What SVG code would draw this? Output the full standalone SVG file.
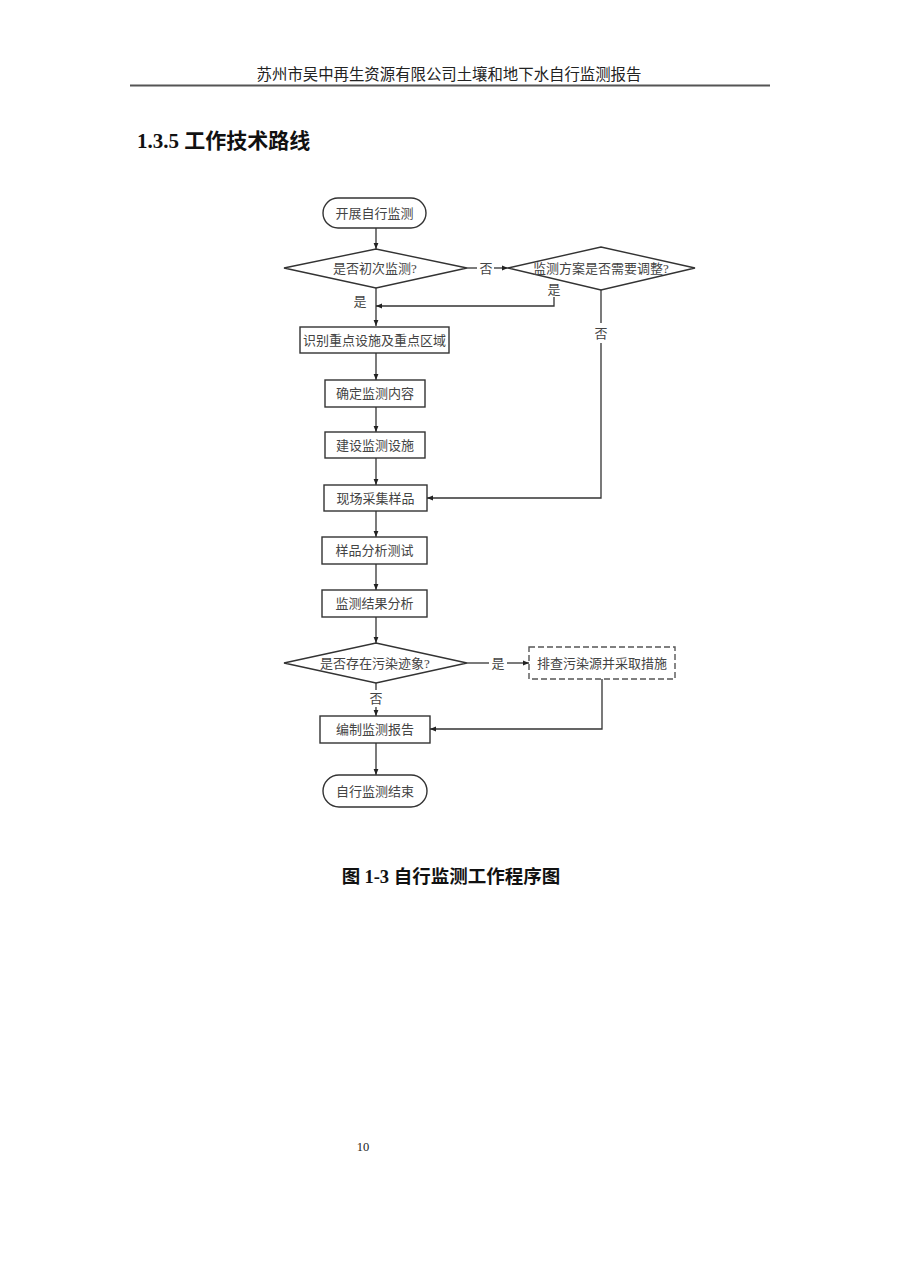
<svg xmlns="http://www.w3.org/2000/svg" width="900" height="1272" viewBox="0 0 900 1272">
<style>
.sh{fill:#fff;stroke:#333;stroke-width:1.4}
.dash{fill:#fff;stroke:#555;stroke-width:1.4;stroke-dasharray:6,3}
.t{font-family:"Liberation Serif","Noto Sans CJK SC",serif;font-size:13px;fill:#444;text-anchor:middle;dominant-baseline:central}
.c{fill:none;stroke:#333;stroke-width:1.3}
.lb{font-family:"Liberation Serif","Noto Sans CJK SC",serif;font-size:13px;fill:#444;text-anchor:middle;dominant-baseline:central}
</style>
<defs>
<marker id="ah" viewBox="0 0 10 10" refX="10" refY="5" markerWidth="6" markerHeight="6" markerUnits="userSpaceOnUse" orient="auto">
<path d="M0,1 L10,5 L0,9 z" fill="#222"/>
</marker>
</defs>
<rect width="900" height="1272" fill="#fff"/>
<text x="449" y="80" font-family="'Noto Sans CJK SC',sans-serif" font-size="15.4" fill="#222" text-anchor="middle">苏州市吴中再生资源有限公司土壤和地下水自行监测报告</text>
<line x1="130" y1="85.5" x2="770" y2="85.5" stroke="#555" stroke-width="1.8"/>
<text x="137" y="148" font-size="21" font-weight="bold" fill="#111"><tspan font-family="'Liberation Serif',serif">1.3.5 </tspan><tspan font-family="'Noto Sans CJK SC',sans-serif">工作技术路线</tspan></text>

<g id="connectors">
<line class="c" x1="376" y1="228" x2="376" y2="249" marker-end="url(#ah)"/>
<line class="c" x1="467" y1="268" x2="477" y2="268"/>
<line class="c" x1="494" y1="268" x2="508" y2="268" marker-end="url(#ah)"/>
<line class="c" x1="376" y1="288" x2="376" y2="326" marker-end="url(#ah)"/>
<polyline class="c" points="554,297 554,306 376,306" marker-end="url(#ah)"/>
<line class="c" x1="601" y1="290" x2="601" y2="323"/>
<polyline class="c" points="601,343 601,498 427,498" marker-end="url(#ah)"/>
<line class="c" x1="376" y1="353" x2="376" y2="380" marker-end="url(#ah)"/>
<line class="c" x1="376" y1="407" x2="376" y2="432" marker-end="url(#ah)"/>
<line class="c" x1="376" y1="458" x2="376" y2="485" marker-end="url(#ah)"/>
<line class="c" x1="376" y1="511" x2="376" y2="537" marker-end="url(#ah)"/>
<line class="c" x1="376" y1="564" x2="376" y2="590" marker-end="url(#ah)"/>
<line class="c" x1="376" y1="617" x2="376" y2="643" marker-end="url(#ah)"/>
<line class="c" x1="467" y1="663" x2="489" y2="663"/>
<line class="c" x1="507" y1="663" x2="529" y2="663" marker-end="url(#ah)"/>
<line class="c" x1="376" y1="683" x2="376" y2="690"/>
<line class="c" x1="376" y1="707" x2="376" y2="716" marker-end="url(#ah)"/>
<polyline class="c" points="602,679 602,729 430,729" marker-end="url(#ah)"/>
<line class="c" x1="376" y1="743" x2="376" y2="775" marker-end="url(#ah)"/>
<text class="lb" x="486" y="268">否</text>
<text class="lb" x="554" y="289">是</text>
<text class="lb" x="360" y="301">是</text>
<text class="lb" x="601" y="333">否</text>
<text class="lb" x="498" y="663">是</text>
<text class="lb" x="376" y="698">否</text>
</g>

<g id="start"><rect class="sh" x="323" y="198" width="103" height="30" rx="15"/><text class="t" x="374.5" y="213">开展自行监测</text></g>
<g id="d1"><polygon class="sh" points="284,268 376,249 467,268 376,288"/><text class="t" x="375" y="268">是否初次监测?</text></g>
<g id="d2"><polygon class="sh" points="508,268 601,247 695,268 601,290"/><text class="t" x="601" y="268">监测方案是否需要调整?</text></g>
<g id="n1"><rect class="sh" x="300" y="327" width="149" height="26"/><text class="t" x="374.5" y="340">识别重点设施及重点区域</text></g>
<g id="n2"><rect class="sh" x="325" y="380" width="100" height="27"/><text class="t" x="375" y="393.5">确定监测内容</text></g>
<g id="n3"><rect class="sh" x="325" y="432" width="100" height="26"/><text class="t" x="375" y="445">建设监测设施</text></g>
<g id="n4"><rect class="sh" x="324" y="485" width="103" height="26"/><text class="t" x="375.5" y="498">现场采集样品</text></g>
<g id="n5"><rect class="sh" x="322" y="537" width="105" height="27"/><text class="t" x="374.5" y="550.5">样品分析测试</text></g>
<g id="n6"><rect class="sh" x="322" y="590" width="105" height="27"/><text class="t" x="374.5" y="603.5">监测结果分析</text></g>
<g id="d3"><polygon class="sh" points="284,663 376,643 467,663 376,683"/><text class="t" x="375" y="663">是否存在污染迹象?</text></g>
<g id="n7"><rect class="dash" x="529" y="647" width="146" height="32"/><text class="t" x="602" y="663">排查污染源并采取措施</text></g>
<g id="n8"><rect class="sh" x="320" y="716" width="110" height="27"/><text class="t" x="375" y="729.5">编制监测报告</text></g>
<g id="end"><rect class="sh" x="323" y="775" width="104" height="32" rx="16"/><text class="t" x="375" y="791">自行监测结束</text></g>

<text x="451" y="883" font-size="18.5" font-weight="bold" fill="#111" text-anchor="middle"><tspan font-family="'Noto Sans CJK SC',sans-serif">图 </tspan><tspan font-family="'Liberation Serif',serif">1-3 </tspan><tspan font-family="'Noto Sans CJK SC',sans-serif">自行监测工作程序图</tspan></text>
<text x="363" y="1151" font-family="'Liberation Serif',serif" font-size="12.5" fill="#222" text-anchor="middle">10</text>
</svg>
